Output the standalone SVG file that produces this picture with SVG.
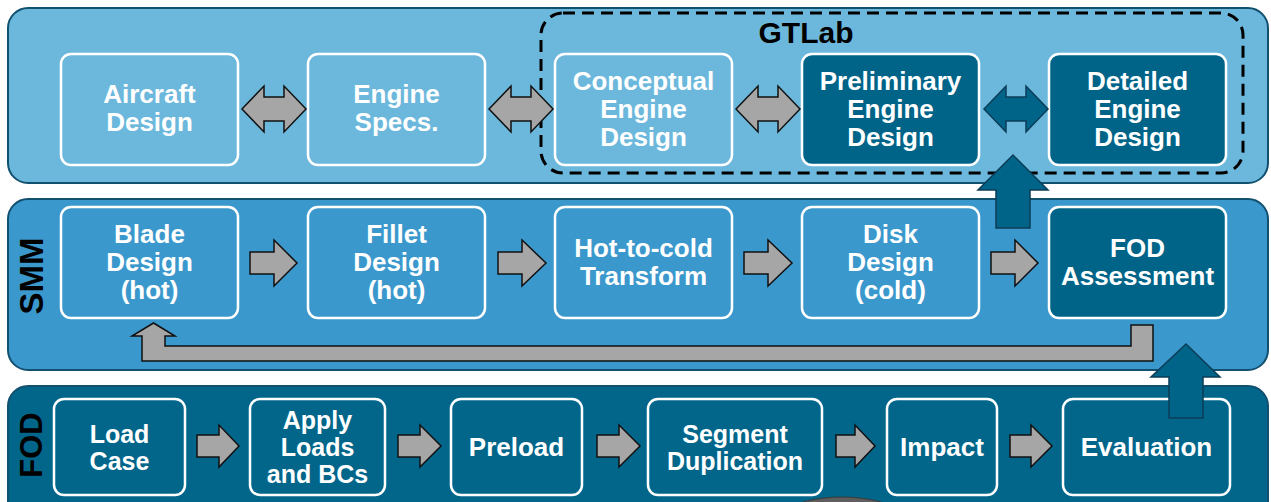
<svg xmlns="http://www.w3.org/2000/svg" width="1271" height="502" viewBox="0 0 1271 502">
<style>
.panel{stroke:#12506F;stroke-width:2}
.box{stroke:#FFFFFF;stroke-width:2.5}
.t{font-family:"Liberation Sans",Arial,sans-serif;font-weight:bold;font-size:26px;fill:#FFFFFF;text-anchor:middle}
.f{font-size:25px}
.lbl{font-family:"Liberation Sans",Arial,sans-serif;font-weight:bold;fill:#000000;text-anchor:middle}
.ga{fill:#A6A6A6;stroke:#111111;stroke-width:1.5;stroke-linejoin:miter}
.ba{fill:#006489;stroke:#0B3D57;stroke-width:1.5}
</style>
<rect width="1271" height="502" fill="#FFFFFF"/>
<g id="panel-top"><rect class="panel" x="8" y="8" width="1260" height="175" rx="20" fill="#6CB8DC"/></g>
<g id="panel-smm"><rect class="panel" x="8" y="199" width="1260" height="171" rx="20" fill="#3B98CC"/>
<text class="lbl" font-size="33" transform="translate(43,276) rotate(-90)">SMM</text></g>
<g id="panel-fod"><rect class="panel" x="8" y="386" width="1260" height="140" rx="20" fill="#02668B"/>
<text class="lbl" font-size="31" transform="translate(42,445) rotate(-90)">FOD</text></g>
<g id="gtlab"><rect x="541" y="13" width="702" height="160" rx="22" fill="none" stroke="#000" stroke-width="3" stroke-dasharray="12 7"/>
<text class="lbl" font-size="30" x="806" y="43">GTLab</text></g>

<g id="aircraft"><rect class="box" x="61" y="54" width="177" height="111" rx="10" fill="#6CB8DC"/>
<text class="t" x="149.5" y="103">Aircraft</text><text class="t" x="149.5" y="131">Design</text></g>
<g id="specs"><rect class="box" x="308" y="54" width="177" height="111" rx="10" fill="#6CB8DC"/>
<text class="t" x="396.5" y="103">Engine</text><text class="t" x="396.5" y="131">Specs.</text></g>
<g id="conceptual"><rect class="box" x="555" y="54" width="177" height="111" rx="10" fill="#6CB8DC"/>
<text class="t" x="643.5" y="90">Conceptual</text><text class="t" x="643.5" y="118">Engine</text><text class="t" x="643.5" y="146">Design</text></g>
<g id="preliminary"><rect class="box" x="802" y="54" width="177" height="111" rx="10" fill="#006489"/>
<text class="t" x="890.5" y="90">Preliminary</text><text class="t" x="890.5" y="118">Engine</text><text class="t" x="890.5" y="146">Design</text></g>
<g id="detailed"><rect class="box" x="1049" y="54" width="177" height="111" rx="10" fill="#006489"/>
<text class="t" x="1137.5" y="90">Detailed</text><text class="t" x="1137.5" y="118">Engine</text><text class="t" x="1137.5" y="146">Design</text></g>

<g id="blade"><rect class="box" x="61" y="207" width="177" height="111" rx="10" fill="#3B98CC"/>
<text class="t" x="149.5" y="243">Blade</text><text class="t" x="149.5" y="271">Design</text><text class="t" x="149.5" y="299">(hot)</text></g>
<g id="fillet"><rect class="box" x="308" y="207" width="177" height="111" rx="10" fill="#3B98CC"/>
<text class="t" x="396.5" y="243">Fillet</text><text class="t" x="396.5" y="271">Design</text><text class="t" x="396.5" y="299">(hot)</text></g>
<g id="hot2cold"><rect class="box" x="555" y="207" width="177" height="111" rx="10" fill="#3B98CC"/>
<text class="t" x="643.5" y="257">Hot-to-cold</text><text class="t" x="643.5" y="285">Transform</text></g>
<g id="disk"><rect class="box" x="802" y="207" width="177" height="111" rx="10" fill="#3B98CC"/>
<text class="t" x="890.5" y="243">Disk</text><text class="t" x="890.5" y="271">Design</text><text class="t" x="890.5" y="299">(cold)</text></g>
<g id="fodassess"><rect class="box" x="1049" y="207" width="177" height="111" rx="10" fill="#006489"/>
<text class="t" x="1137.5" y="257">FOD</text><text class="t" x="1137.5" y="285">Assessment</text></g>

<g id="loadcase"><rect class="box" x="54" y="399" width="131" height="96" rx="10" fill="#02668B"/>
<text class="t f" x="119.5" y="443">Load</text><text class="t f" x="119.5" y="470">Case</text></g>
<g id="apply"><rect class="box" x="250" y="399" width="135" height="96" rx="10" fill="#02668B"/>
<text class="t f" x="317.5" y="429">Apply</text><text class="t f" x="317.5" y="456">Loads</text><text class="t f" x="317.5" y="483">and BCs</text></g>
<g id="preload"><rect class="box" x="451" y="399" width="131" height="96" rx="10" fill="#02668B"/>
<text class="t" x="516.5" y="456">Preload</text></g>
<g id="segment"><rect class="box" x="648" y="399" width="174" height="96" rx="10" fill="#02668B"/>
<text class="t f" x="735" y="443">Segment</text><text class="t f" x="735" y="470">Duplication</text></g>
<g id="impact"><rect class="box" x="887" y="399" width="110" height="96" rx="10" fill="#02668B"/>
<text class="t" x="942" y="456">Impact</text></g>
<g id="evaluation"><rect class="box" x="1063" y="399" width="167" height="96" rx="10" fill="#02668B"/>
<text class="t" x="1146.5" y="456">Evaluation</text></g>

<g id="connectors">
<path class="ga" d="M242,109 L264,86 V97 H284 V86 L306,109 L284,132 V121 H264 V132 Z"/>
<path class="ga" d="M489,109 L511,86 V97 H531 V86 L553,109 L531,132 V121 H511 V132 Z"/>
<path class="ga" d="M736,109 L758,86 V97 H778 V86 L800,109 L778,132 V121 H758 V132 Z"/>
<path class="ba" d="M984,109 L1006,86 V97 H1026 V86 L1048,109 L1026,132 V121 H1006 V132 Z"/>

<path class="ga" d="M250,252 H274 V240 L297,263 L274,286 V274 H250 Z"/>
<path class="ga" d="M498,252 H522 V240 L546,263 L522,286 V274 H498 Z"/>
<path class="ga" d="M744,252 H768 V240 L792,263 L768,286 V274 H744 Z"/>
<path class="ga" d="M991,252 H1015 V240 L1038,263 L1015,286 V274 H991 Z"/>

<path class="ga" d="M1131,325 H1153 V361 H142 V336 H132 L153.5,323 L175,336 H165 V346 H1131 Z"/>

<path class="ga" d="M197,435 H219 V425 L239,446 L219,467 V457 H197 Z"/>
<path class="ga" d="M398,435 H420 V425 L441,446 L420,467 V457 H398 Z"/>
<path class="ga" d="M597,435 H619 V425 L640,446 L619,467 V457 H597 Z"/>
<path class="ga" d="M836,435 H855 V425 L875,446 L855,467 V457 H836 Z"/>
<path class="ga" d="M1010,435 H1031 V425 L1052,446 L1031,467 V457 H1010 Z"/>

<path class="ba" d="M996,228 V190 H978 L1013,155 L1048,190 H1030 V228 Z"/>
<path class="ba" d="M1169,418 V377 H1151 L1186,344 L1220,377 H1203 V418 Z"/>
</g>
<ellipse cx="842" cy="560" rx="100" ry="63" fill="#5E5E5E" stroke="#3A3A3A" stroke-width="1"/>
</svg>
